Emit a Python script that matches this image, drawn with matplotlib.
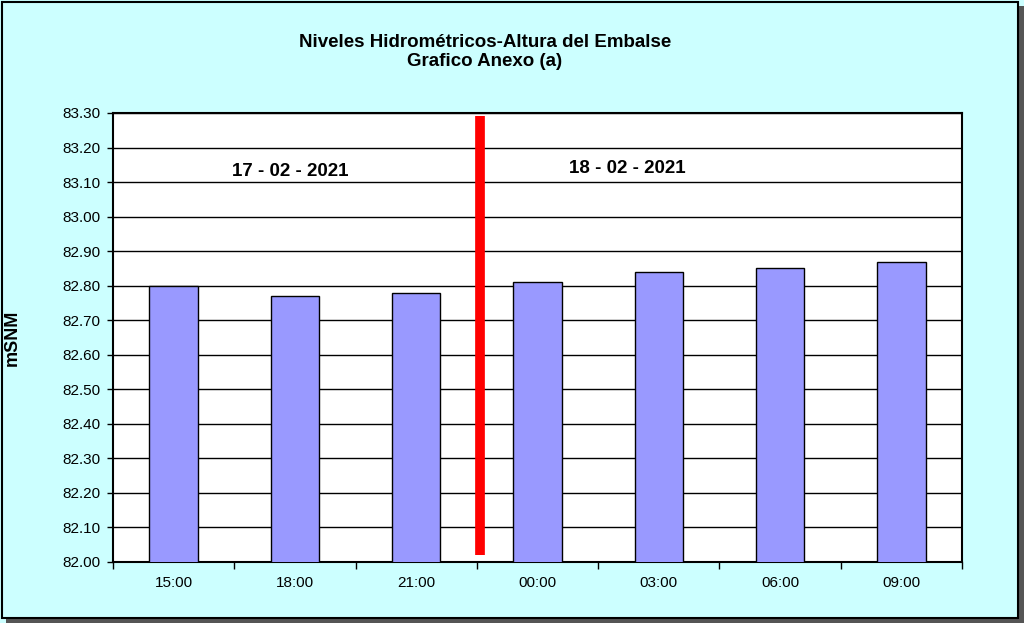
import numpy as np
import matplotlib.pyplot as plt
from matplotlib.patches import Rectangle

plt.rcParams['font.family'] = ['Liberation Sans', 'DejaVu Sans']

# Data
horas = ['15:00', '18:00', '21:00', '00:00', '03:00', '06:00', '09:00']
niveles = [82.80, 82.77, 82.78, 82.81, 82.84, 82.85, 82.87]
fechas = ['17 - 02 - 2021', '18 - 02 - 2021']

fig = plt.figure(figsize=(10.24, 6.23), dpi=100)
fig.patch.set_facecolor('#CCFFFF')

# outer frame with shadow
fig.patches.append(Rectangle((0.006, 0.0), 0.994, 0.99, transform=fig.transFigure,
                             facecolor='#555555', edgecolor='none', zorder=-2))
fig.patches.append(Rectangle((0.002, 0.008), 0.992, 0.988, transform=fig.transFigure,
                             facecolor='#CCFFFF', edgecolor='black', lw=1.5, zorder=-1))

ax = fig.add_axes([113 / 1024, 1 - 562 / 623, (962 - 113) / 1024, (562 - 113) / 623])
ax.set_facecolor('white')

x = np.arange(len(horas))
ax.bar(x, niveles, width=0.4, color='#9999FF', edgecolor='black', lw=1, zorder=3)
ax.set_xlim(-0.5, len(horas) - 0.5)
ax.set_ylim(82.0, 83.3)

yt = np.round(np.arange(82.0, 83.31, 0.1), 2)
ax.set_yticks(yt)
ax.set_yticklabels([f'{v:.2f}' for v in yt], fontsize=11)
ax.yaxis.grid(True, color='black', lw=1, zorder=0)

ax.set_xticks(x)
ax.set_xticklabels(horas, fontsize=11)
ax.tick_params(axis='x', length=0, pad=10)
ax.set_xticks(np.arange(-0.5, len(horas), 1.0), minor=True)
ax.tick_params(axis='x', which='minor', length=5, direction='out', width=1)
ax.tick_params(axis='y', length=4, direction='out', width=1, pad=5)

for s in ax.spines.values():
    s.set_linewidth(1.5)

# separator between days
ax.plot([2.53, 2.53], [82.02, 83.29], color='red', lw=7, solid_capstyle='butt', zorder=4)

ax.text(0.96, 83.13, fechas[0], ha='center', va='center', fontsize=13.5, fontweight='bold', zorder=5)
ax.text(3.74, 83.14, fechas[1], ha='center', va='center', fontsize=13.5, fontweight='bold', zorder=5)

ax.set_ylabel('mSNM', fontsize=13, fontweight='bold', labelpad=30)
fig.text(485 / 1024, 1 - 52 / 623, 'Niveles Hidrométricos-Altura del Embalse\nGrafico Anexo (a)',
         ha='center', va='center', fontsize=13.5, fontweight='bold', linespacing=1.2)

fig.savefig('out.png', dpi=100, facecolor=fig.get_facecolor())
